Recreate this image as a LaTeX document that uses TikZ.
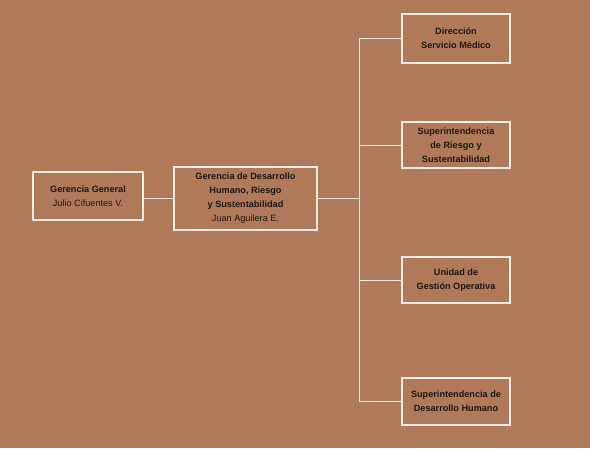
\documentclass[tikz,border=0pt]{standalone}
\usepackage{fontspec}
\setmainfont{Liberation Sans}
\definecolor{fondo}{RGB}{176,122,90}
\definecolor{texto}{RGB}{30,22,18}
\definecolor{borde}{RGB}{250,238,228}
\tikzset{
  caja/.style={draw=borde, line width=0.75pt, fill=fondo, text=texto, align=center,
    inner sep=0pt, font=\fontsize{6.5}{10}\selectfont\bfseries},
  linea/.style={draw=borde, line width=0.7pt}
}
\begin{document}
\begin{tikzpicture}[x=0.025cm, y=-0.025cm]
            \fill[fondo] (0,0) rectangle (590,448);
            \useasboundingbox (0,0) rectangle (590,448);

            \node[caja, minimum width=2.75cm, minimum height=1.2cm] (ger) at (88, 196) {Gerencia General\\\mdseries Julio Cifuentes V.};
            \node[caja, minimum width=3.575cm, minimum height=1.575cm] (des) at (245.5, 198.5) {Gerencia de Desarrollo\\Humano, Riesgo\\y Sustentabilidad\\\mdseries Juan Aguilera E.};
            \node[caja, minimum width=2.7cm, minimum height=1.225cm] (dir) at (456, 38.5) {Dirección\\Servicio Médico};
            \node[caja, minimum width=2.7cm, minimum height=1.15cm] (rie) at (456, 145) {Superintendencia\\de Riesgo y\\Sustentabilidad};
            \node[caja, minimum width=2.7cm, minimum height=1.15cm] (ope) at (456, 280) {Unidad de\\Gestión Operativa};
            \node[caja, minimum width=2.7cm, minimum height=1.175cm] (hum) at (456, 401.5) {Superintendencia de\\Desarrollo Humano};

            \coordinate (bus) at (359, 198.5);

            \draw[linea] (ger.east |- des) -- (des.west);
            \draw[linea] (des.east) -- (bus);
            \draw[linea] (bus) |- (dir.west);
            \draw[linea] (bus) |- (rie.west);
            \draw[linea] (bus) |- (ope.west);
            \draw[linea] (bus) |- (hum.west);
        \end{tikzpicture}
\end{document}
